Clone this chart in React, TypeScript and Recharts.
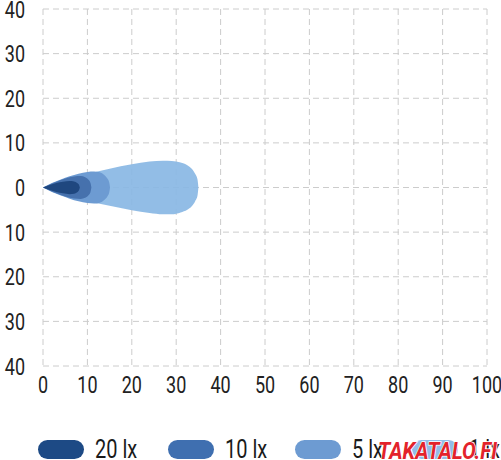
import React from 'react';
import { ComposedChart, Area, XAxis, YAxis, CartesianGrid } from 'recharts';

const xTicks = [0, 10, 20, 30, 40, 50, 60, 70, 80, 90, 100];
const yTicks = [-40, -30, -20, -10, 0, 10, 20, 30, 40];

const legendLabels = ['20 lx', '10 lx', '5 lx', '1 lx'];
const legendColors = ['#1d4a85', '#3f6fb0', '#6d9bd2', '#93bde8'];

// 1 lx (outermost)
const lx1X = [0, 2, 5, 10, 15, 20, 24, 27, 29, 31, 32.5, 33.5, 34.3, 34.8, 35];
const lx1Hi = [0, 0.8, 1.8, 3.0, 4.2, 5.2, 5.8, 6.0, 5.95, 5.6, 5.0, 4.2, 3.0, 1.8, 0];
const lx1Lo = [0, -0.8, -1.8, -3.0, -4.1, -5.1, -5.7, -6.0, -6.0, -5.6, -5.0, -4.2, -3.0, -1.8, 0];

// 5 lx
const lx5X = [0, 2, 4, 6, 8, 10, 11.5, 12.8, 13.8, 14.5, 14.9, 15.1];
const lx5Hi = [0, 1.0, 1.8, 2.5, 3.1, 3.5, 3.6, 3.4, 2.8, 2.0, 1.2, 0];
const lx5Lo = [0, -1.0, -1.8, -2.5, -3.1, -3.5, -3.6, -3.4, -2.8, -2.0, -1.2, 0];

// 10 lx
const lx10X = [0, 1.5, 3, 5, 7, 8.5, 9.5, 10.3, 10.7, 10.9];
const lx10Hi = [0, 0.7, 1.3, 2.0, 2.45, 2.55, 2.3, 1.7, 1.0, 0];
const lx10Lo = [0, -0.7, -1.3, -2.0, -2.45, -2.55, -2.3, -1.7, -1.0, 0];

// 20 lx
const lx20X = [0, 1.5, 3, 4.5, 6, 7, 7.7, 8.1, 8.3];
const lx20Hi = [0, 0.55, 1.0, 1.3, 1.45, 1.35, 1.0, 0.6, 0];
const lx20Lo = [0, -0.55, -1.0, -1.3, -1.5, -1.4, -1.05, -0.6, 0];

const build = (xs: number[], lo: number[], hi: number[]) =>
  xs.map((x, i) => ({ x, r: [lo[i], hi[i]] }));

const d1 = build(lx1X, lx1Lo, lx1Hi);
const d5 = build(lx5X, lx5Lo, lx5Hi);
const d10 = build(lx10X, lx10Lo, lx10Hi);
const d20 = build(lx20X, lx20Lo, lx20Hi);

const FONT = "Roboto, 'Noto Sans', sans-serif";
const SX = 0.75;
const LSX = 0.8;

const legendX = [38, 168, 295, 412];

const XTick = (props: any) => {
  const { x, y, payload } = props;
  return (
    <text
      transform={`translate(${x},${y}) scale(${SX},1)`}
      textAnchor="middle"
      dy="0.71em"
      fontSize={24}
      fontFamily={FONT}
      fill="#222"
    >
      {payload.value}
    </text>
  );
};

const YTick = (props: any) => {
  const { x, y, payload } = props;
  return (
    <text
      transform={`translate(${x},${y}) scale(${SX},1)`}
      textAnchor="end"
      dy="0.355em"
      fontSize={24}
      fontFamily={FONT}
      fill="#222"
    >
      {String(Math.abs(payload.value))}
    </text>
  );
};

export default function App() {
  return (
    <div style={{ position: 'absolute', left: 0, top: 0, width: 501, height: 460, background: '#fff', overflow: 'hidden' }}>
      <ComposedChart
        width={501}
        height={400}
        margin={{ top: 9, right: 14, left: 0, bottom: 4 }}
      >
        <CartesianGrid stroke="#cccccc" strokeDasharray="6 4" />
        <XAxis
          type="number"
          dataKey="x"
          domain={[0, 100]}
          ticks={xTicks}
          interval={0}
          allowDataOverflow
          axisLine={false}
          tickLine={false}
          tickSize={0}
          tickMargin={10}
          height={30}
          tick={<XTick />}
        />
        <YAxis
          type="number"
          domain={[-40, 40]}
          ticks={yTicks}
          interval={0}
          allowDataOverflow
          axisLine={false}
          tickLine={false}
          tickSize={0}
          tickMargin={18}
          width={43}
          tick={<YTick />}
        />
        <Area data={d1} dataKey="r" type="monotone" stroke="none" fill="#89b7e4" fillOpacity={0.92} isAnimationActive={false} />
        <Area data={d5} dataKey="r" type="monotone" stroke="none" fill="#6d9bd2" fillOpacity={1} isAnimationActive={false} />
        <Area data={d10} dataKey="r" type="monotone" stroke="none" fill="#4671ad" fillOpacity={1} isAnimationActive={false} />
        <Area data={d20} dataKey="r" type="monotone" stroke="none" fill="#1f477f" fillOpacity={1} isAnimationActive={false} />
      </ComposedChart>
      <svg width={501} height={460} style={{ position: 'absolute', left: 0, top: 0, pointerEvents: 'none' }}>
        {legendLabels.map((lab, i) => (
          <g key={lab}>
            <rect x={legendX[i]} y={440} width={46} height={19} rx={9.5} ry={9.5} fill={legendColors[i]} />
            <text
              transform={`translate(${legendX[i] + 57},458) scale(${LSX},1)`}
              fontSize={25}
              fontFamily={FONT}
              fill="#1a1a1a"
            >
              {lab}
            </text>
          </g>
        ))}
        <text
          x={378}
          y={459}
          fontSize={23}
          fontWeight="bold"
          fontStyle="italic"
          fontFamily={FONT}
          fill="#e3232b"
          stroke="#ffffff"
          strokeWidth={1.5}
          paintOrder="stroke"
          textLength={119}
          lengthAdjust="spacingAndGlyphs"
        >
          TAKATALO.FI
        </text>
      </svg>
    </div>
  );
}
